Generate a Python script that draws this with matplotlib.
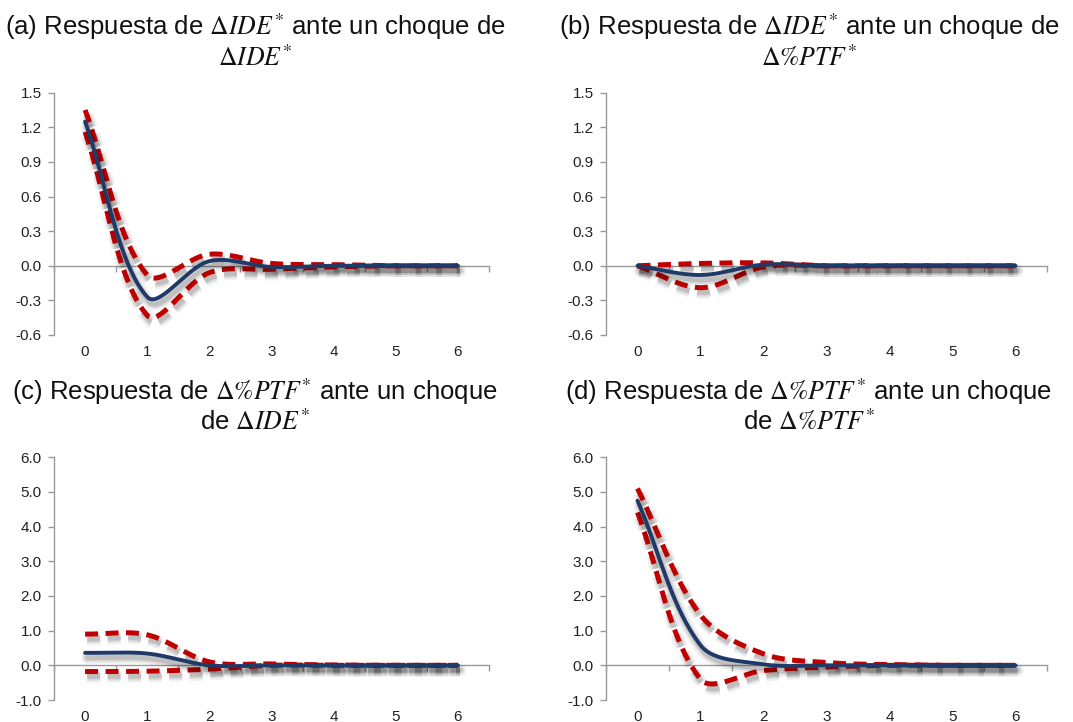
import numpy as np
import matplotlib
matplotlib.use("Agg")
import matplotlib.pyplot as plt
import matplotlib.patheffects as pe

plt.rcParams["font.family"] = ["Liberation Sans", "DejaVu Sans"]
plt.rcParams["mathtext.fontset"] = "stix"

# horizon (periods) and impulse responses with their confidence bands
periods = [0, 1, 2, 3, 4, 5, 6]

a_resp = [1.25, -0.27, 0.04, -0.01, 0.0, 0.0, 0.0]
a_upper = [1.35, -0.08, 0.10, 0.02, 0.01, 0.0, 0.0]
a_lower = [1.16, -0.43, -0.06, -0.03, -0.01, 0.0, 0.0]

b_resp = [0.0, -0.08, 0.01, 0.0, 0.0, 0.0, 0.0]
b_upper = [0.0, 0.02, 0.025, 0.0, 0.0, 0.0, 0.0]
b_lower = [0.0, -0.19, -0.01, 0.0, 0.0, 0.0, 0.0]

c_resp = [0.36, 0.34, 0.0, 0.0, 0.0, 0.0, 0.0]
c_upper = [0.90, 0.88, 0.10, 0.04, 0.01, 0.0, 0.0]
c_lower = [-0.18, -0.17, -0.11, 0.0, 0.0, 0.0, 0.0]

d_resp = [4.75, 0.58, 0.03, 0.0, 0.0, 0.0, 0.0]
d_upper = [5.10, 1.45, 0.33, 0.08, 0.02, 0.0, 0.0]
d_lower = [4.41, -0.40, -0.15, -0.05, 0.0, 0.0, 0.0]

ticks_ab = [-0.6, -0.3, 0.0, 0.3, 0.6, 0.9, 1.2, 1.5]
ticks_cd = [-1.0, 0.0, 1.0, 2.0, 3.0, 4.0, 5.0, 6.0]

titles = [
    (r"(a) Respuesta de $\Delta IDE^{*}$ ante un choque de", r"$\Delta IDE^{*}$"),
    (r"(b) Respuesta de $\Delta IDE^{*}$ ante un choque de", r"$\Delta\%PTF^{*}$"),
    (r"(c) Respuesta de $\Delta\%PTF^{*}$ ante un choque", r"de $\Delta IDE^{*}$"),
    (r"(d) Respuesta de $\Delta\%PTF^{*}$ ante un choque", r"de $\Delta\%PTF^{*}$"),
]

W, H = 1073, 722
BLUE = "#1F3A68"
RED = "#C00000"
AXC = "#9A9A9A"


def smooth(x, y, sx, sy, n=40):
    """Bezier smoothing through the points, tangents split by chord length."""
    p = np.column_stack([np.asarray(x, float) * sx, np.asarray(y, float) * sy])
    m = len(p)
    out = []
    for i in range(m - 1):
        p0, p3 = p[i], p[i + 1]
        prev = p[i - 1] if i > 0 else p[i]
        nxt = p[i + 2] if i + 2 < m else p[i + 1]
        l_in = np.hypot(*(p0 - prev))
        l_mid = np.hypot(*(p3 - p0))
        l_out = np.hypot(*(nxt - p3))
        t0 = p3 - prev
        t1 = nxt - p0
        f0 = l_mid / (l_in + l_mid) / 3 if l_in + l_mid > 0 else 0
        f1 = l_mid / (l_mid + l_out) / 3 if l_mid + l_out > 0 else 0
        c1 = p0 + t0 * f0
        c2 = p3 - t1 * f1
        t = np.linspace(0, 1, n)[:, None]
        seg = ((1 - t) ** 3) * p0 + 3 * ((1 - t) ** 2) * t * c1 + 3 * (1 - t) * t ** 2 * c2 + t ** 3 * p3
        out.append(seg if i == 0 else seg[1:])
    out = np.vstack(out)
    return out[:, 0] / sx, out[:, 1] / sy


def shadow():
    return [
        pe.SimpleLineShadow(offset=(1.5, -3.5), shadow_color="k", alpha=0.06, linewidth=9),
        pe.SimpleLineShadow(offset=(1.5, -3.5), shadow_color="k", alpha=0.09, linewidth=6),
        pe.SimpleLineShadow(offset=(1.5, -3.5), shadow_color="k", alpha=0.12, linewidth=3.5),
        pe.Normal(),
    ]


fig = plt.figure(figsize=(W / 100, H / 100), dpi=100)

boxes = [(54, 489, 92.7, 335), (606, 1047, 92.7, 335),
         (54, 489, 457.3, 700), (606, 1047, 457.3, 700)]
title_pos = [(255, 27, 58), (809, 27, 58), (255, 392, 422), (809, 392, 422)]
panels = [(a_resp, a_upper, a_lower, ticks_ab),
          (b_resp, b_upper, b_lower, ticks_ab),
          (c_resp, c_upper, c_lower, ticks_cd),
          (d_resp, d_upper, d_lower, ticks_cd)]

for (l, r, t, b), (resp, up, lo, yt), (l1, l2), (tx, ty1, ty2) in zip(boxes, panels, titles, title_pos):
    ax = fig.add_axes([l / W, 1 - b / H, (r - l) / W, (b - t) / H])
    ax.set_xlim(-0.5, len(periods) - 0.5)
    ax.set_ylim(yt[0], yt[-1])
    sx = (r - l) / len(periods)
    sy = (b - t) / (yt[-1] - yt[0])

    for vals, col, lw, dashed in [(up, RED, 3.6, True), (lo, RED, 3.6, True), (resp, BLUE, 2.8, False)]:
        xs, ys = smooth(periods, vals, sx, sy)
        line, = ax.plot(xs, ys, color=col, lw=lw, clip_on=False, zorder=3,
                        solid_capstyle="round", dash_capstyle="butt")
        if dashed:
            line.set_dashes((2.6, 1.5))
        line.set_path_effects(shadow())

    # y axis
    for s in ["top", "right"]:
        ax.spines[s].set_visible(False)
    ax.spines["left"].set_color(AXC)
    ax.spines["left"].set_linewidth(1.0)
    ax.set_yticks(yt)
    ax.set_yticklabels([f"{v:.1f}" for v in yt])
    ax.tick_params(axis="y", colors=AXC, labelcolor="#222222", length=4, width=1.0,
                   labelsize=11, pad=5)

    # category axis drawn through zero
    ax.spines["bottom"].set_position(("data", 0))
    ax.spines["bottom"].set_color(AXC)
    ax.spines["bottom"].set_linewidth(1.0)
    ax.set_xticks([])
    ax.set_xticks(np.arange(len(periods) + 1) - 0.5, minor=True)
    ax.tick_params(axis="x", which="minor", colors=AXC, length=4, width=1.0, direction="out")

    sec = ax.secondary_xaxis("bottom")
    sec.set_xticks(periods)
    sec.set_xticklabels([str(p) for p in periods])
    sec.tick_params(length=0, pad=7, labelsize=11, labelcolor="#222222")
    sec.spines["bottom"].set_visible(False)

    fig.text(tx / W, 1 - ty1 / H, l1, ha="center", va="center", fontsize=18.5, color="#111111")
    fig.text(tx / W, 1 - ty2 / H, l2, ha="center", va="center", fontsize=18.5, color="#111111")

fig.savefig("out.png", dpi=100, facecolor="white")
